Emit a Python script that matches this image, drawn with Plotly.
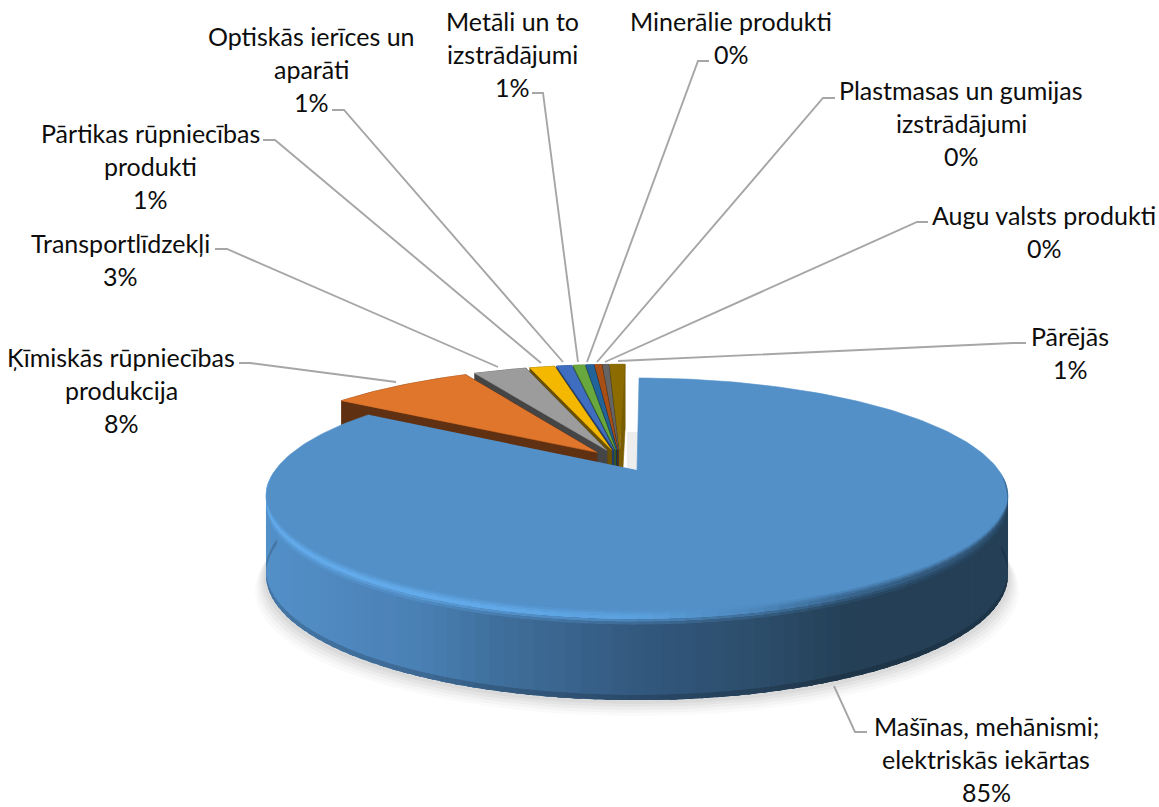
import numpy as np
import plotly.graph_objects as go

# ---------- data ----------
categories = ["Mašīnas, mehānismi; elektriskās iekārtas", "Ķīmiskās rūpniecības produkcija",
              "Transportlīdzekļi", "Pārtikas rūpniecības produkti", "Optiskās ierīces un aparāti",
              "Metāli un to izstrādājumi", "Minerālie produkti", "Plastmasas un gumijas izstrādājumi",
              "Augu valsts produkti", "Pārējās"]
values = [84.2, 7.9, 2.95, 1.4, 0.85, 0.65, 0.45, 0.4, 0.35, 0.85]
percent_labels = ["85%", "8%", "3%", "1%", "1%", "1%", "0%", "0%", "0%", "1%"]
top_colors = ["#5390C8", "#E0752C", "#9C9C9C", "#F4B800", "#3F6EC0", "#69A83F", "#22639A", "#A84F15", "#656565", "#8C6B00"]
side_colors = ["#243F56", "#5F3112", "#454545", "#6B5000", "#223C69", "#3A5C22", "#123655", "#5B2B0B", "#373737", "#7A5D00"]
label_lines = [
    ["Mašīnas, mehānismi;", "elektriskās iekārtas"],
    ["Ķīmiskās rūpniecības", "produkcija"],
    ["Transportlīdzekļi"],
    ["Pārtikas rūpniecības", "produkti"],
    ["Optiskās ierīces un", "aparāti"],
    ["Metāli un to", "izstrādājumi"],
    ["Minerālie produkti"],
    ["Plastmasas un gumijas", "izstrādājumi"],
    ["Augu valsts produkti"],
    ["Pārējās"],
]

# ---------- layout of labels (pixel centre of block, first-line y) ----------
label_x = [986, 121, 120, 150, 311, 512, 731, 961, 1044, 1070]
label_y = [726, 357, 243, 133, 36, 21, 21, 90, 215, 336]
LINE = 33
leaders = [
    [(834, 686), (855, 732), (867, 732)],
    [(239, 363), (250, 363), (396, 382)],
    [(215, 249), (227, 249), (498, 367)],
    [(263, 140), (275, 140), (541, 363)],
    [(332, 110), (344, 110), (563, 362)],
    [(532, 93), (543, 93), (578, 362)],
    [(709, 61), (698, 61), (587, 362)],
    [(835, 98), (823, 98), (597, 362)],
    [(928, 222), (917, 222), (605, 362)],
    [(1026, 343), (1013, 343), (618, 361)],
]

# ---------- projection ----------
CX, CY, R, A, K, EXPL = 637.0, 470.0, 361.6, 112.6, 0.224, 0.10


def project(u, v, z=0.0):
    u, v = np.asarray(u, float), np.asarray(v, float)
    d = 1 + K * v
    return CX + R * u / d, CY - A * v / d + z * (76 - 9 * v)


total = sum(values)
edges = np.concatenate([[0.0], np.cumsum(values) / total * 2 * np.pi]) + np.radians(0.4)
mid = (edges[:-1] + edges[1:]) / 2
ox = EXPL * (np.sin(mid) - np.sin(mid[0]))
oy = EXPL * (np.cos(mid) - np.cos(mid[0]))

fig = go.Figure()


def poly(x, y, color, width=0.6):
    fig.add_trace(go.Scatter(x=list(x), y=list(y), mode="lines", fill="toself", fillcolor=color,
                             line=dict(color=color, width=width), hoverinfo="skip", showlegend=False))


def hexrgb(c):
    return np.array([int(c[i:i + 2], 16) for i in (1, 3, 5)], float)


def ramp(x, xs, cols):
    arr = np.array([hexrgb(c) for c in cols])
    return np.array([np.interp(x, xs, arr[:, i]) for i in range(3)])


def css(c):
    return "rgb(%d,%d,%d)" % tuple(np.clip(np.round(c), 0, 255))


# soft shadow under the pie
th = np.linspace(np.radians(60), np.radians(300), 120)
for s, dy, a in [(1.030, 16, .02), (1.024, 13, .025), (1.018, 10, .03), (1.012, 7, .035), (1.006, 4, .04)]:
    bx, by = project(np.sin(th), np.cos(th), 1.0)
    poly(CX + (bx - CX) * s, by + dy, "rgba(0,0,0,%g)" % a, 0)
poly([627, 640, 638, 627], [432, 432, 470, 468], "rgba(0,0,0,0.07)", 0)

# back slices, far ones first
for i in range(len(values) - 1, 0, -1):
    t = np.linspace(edges[i], edges[i + 1], 30)
    u, v = np.sin(t) + ox[i], np.cos(t) + oy[i]
    ax, ay = project(ox[i], oy[i], 0)
    bax, bay = project(ox[i], oy[i], 1)
    x0, y0 = project(u, v, 0)
    x1, y1 = project(u, v, 1)
    poly(np.r_[x0, x1[::-1]], np.r_[y0, y1[::-1]], side_colors[i])
    poly([ax, x0[-1], x1[-1], bax], [ay, y0[-1], y1[-1], bay], side_colors[i])
    poly([ax, x0[0], x1[0], bax], [ay, y0[0], y1[0], bay], side_colors[i])
    poly(np.r_[ax, x0], np.r_[ay, y0], top_colors[i])

# main slice: side strips with a horizontal gradient (overlapping to hide seams)
SIDE_X = [265, 420, 500, 640, 760, 850, 1010]
SIDE_C = ["#5390C8", "#4A80B4", "#3F6F9C", "#33587E", "#2C4D6B", "#243F56", "#243F56"]
RIM_C = ["#62AAEA", "#62AAEA", "#60A8E8", "#5AA0DC", "#4C86BA", "#38658E", "#2C4D6B"]
top_rgb = hexrgb(top_colors[0])
t_s = np.linspace(np.radians(92), np.radians(270), 91)
step = t_s[1] - t_s[0]
for a in t_s[:-1]:
    tt = np.array([a, a + step * 1.5])
    uu, vv = np.sin(tt), np.cos(tt)
    xm = project(np.sin(a + step / 2), np.cos(a + step / 2))[0]
    col = ramp(xm, SIDE_X, SIDE_C)
    x0, y0 = project(uu, vv, 0)
    x1, y1 = project(uu, vv, 1)
    poly(np.r_[x0, x1[::-1]], np.r_[y0, y1[::-1]], css(col), 0)
for a in t_s[:-1]:
    tt = np.array([a, a + step * 1.5])
    uu, vv = np.sin(tt), np.cos(tt)
    xm = project(np.sin(a + step / 2), np.cos(a + step / 2))[0]
    col = ramp(xm, SIDE_X, SIDE_C)
    x2, y2 = project(uu, vv, 0.94)
    x3, y3 = project(uu, vv, 1.0)
    poly(np.r_[x2, x3[::-1]], np.r_[y2, y3[::-1]], css(col * 0.82), 0)

# main slice: top face
t = np.linspace(edges[0], edges[1], 240)
x0, y0 = project(np.sin(t), np.cos(t), 0)
ax, ay = project(0, 0, 0)
poly(np.r_[ax, x0], np.r_[ay, y0], top_colors[0])

# rim bevel between the top face and the side, tapering out at both ends
bands = [(-0.05, -0.025, 0.3), (-0.025, 0.0, 0.7), (0.0, 0.05, 1.0), (0.05, 0.08, 0.6), (0.08, 0.11, 0.25)]
T0, T1 = np.radians(92), np.radians(268)
t_r = np.linspace(T0, T1, 89)
step = t_r[1] - t_r[0]
for z0, z1, w in bands:
    base_is_top = z0 < 0
    for a in t_r[:-1]:
        tt = np.array([a, a + step * 1.5])
        uu, vv = np.sin(tt), np.cos(tt)
        xm = project(np.sin(a + step / 2), np.cos(a + step / 2))[0]
        rim = ramp(xm, SIDE_X, RIM_C)
        side = ramp(xm, SIDE_X, SIDE_C)
        base = top_rgb if base_is_top else side
        f = np.clip(np.minimum((tt - T0), (T1 - tt)) / np.radians(12), 0, 1)
        xa, ya = project(uu, vv, z0 * f)
        xb, yb = project(uu, vv, z1 * f)
        poly(np.r_[xa, xb[::-1]], np.r_[ya, yb[::-1]], css(base + (rim - base) * w), 0)

# leader lines
for pts in leaders:
    fig.add_trace(go.Scatter(x=[p[0] for p in pts], y=[p[1] for p in pts], mode="lines",
                             line=dict(color="#A6A6A6", width=1.9), hoverinfo="skip", showlegend=False))

# labels
FONT = dict(family="Lato, Carlito, 'Open Sans', sans-serif", size=25, color="#0D0D0D")
for i, lines in enumerate(label_lines):
    for j, txt in enumerate(lines + [percent_labels[i]]):
        fig.add_annotation(x=label_x[i], y=label_y[i] + j * LINE, text=txt, showarrow=False,
                           xref="x", yref="y", xanchor="center", yanchor="middle", font=FONT)

fig.update_layout(width=1159, height=807, autosize=False, margin=dict(l=0, r=0, t=0, b=0),
                  paper_bgcolor="white", plot_bgcolor="white", showlegend=False,
                  xaxis=dict(range=[0, 1159], visible=False, fixedrange=True),
                  yaxis=dict(range=[807, 0], visible=False, fixedrange=True))
fig.write_html("out.html", config=dict(displayModeBar=False),
               post_script="document.body.style.margin='0';document.body.style.overflow='hidden';")
